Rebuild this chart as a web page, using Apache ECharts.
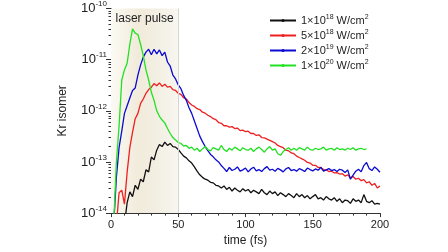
<!DOCTYPE html>
<html>
<head>
<meta charset="utf-8">
<script src="https://cdn.jsdelivr.net/npm/echarts@6/dist/echarts.min.js"></script>
<style>
  html, body { margin: 0; padding: 0; background: #fff; }
  #chart { width: 448px; height: 252px; }
</style>
</head>
<body>
<div id="chart"></div>
<script>
// time axis (fs), one sample every 2 fs
var times = [0,2,4,6,8,10,12,14,16,18,20,22,24,26,28,30,32,34,36,38,40,42,44,46,48,50,
  52,54,56,58,60,62,64,66,68,70,72,74,76,78,80,82,84,86,88,90,92,94,96,98,100,
  102,104,106,108,110,112,114,116,118,120,122,124,126,128,130,132,134,136,138,140,
  142,144,146,148,150,152,154,156,158,160,162,164,166,168,170,172,174,176,178,180,
  182,184,186,188,190,192,194,196,198,200];

var seriesNames = ['1e18', '5e18', '2e19', '1e20'];

// 1x10^18 W/cm^2
var black18 = [null,null,null,null,null,6e-15,1.6e-14,2.6e-14,2.1e-14,3.5e-14,2.9e-14,
  4.6e-14,4.1e-14,7.0e-14,6.4e-14,1.25e-13,1.1e-13,1.7e-13,2.2e-13,2.0e-13,2.45e-13,
  2.1e-13,2.3e-13,2.0e-13,1.95e-13,1.75e-13,1.5e-13,1.3e-13,1.2e-13,1.05e-13,9.5e-14,
  8.0e-14,6.6e-14,5.6e-14,5.0e-14,4.6e-14,4.4e-14,4.0e-14,3.9e-14,3.5e-14,3.4e-14,3.1e-14,
  3.4e-14,2.9e-14,3.2e-14,2.7e-14,3.1e-14,2.8e-14,2.6e-14,3.0e-14,2.7e-14,2.9e-14,
  2.5e-14,2.8e-14,2.6e-14,2.4e-14,2.9e-14,2.5e-14,2.3e-14,2.7e-14,2.4e-14,2.6e-14,
  2.2e-14,2.5e-14,2.3e-14,2.1e-14,2.4e-14,2.2e-14,2.0e-14,2.4e-14,2.1e-14,2.3e-14,
  2.0e-14,2.2e-14,1.9e-14,2.1e-14,2.3e-14,1.9e-14,2.0e-14,1.8e-14,2.1e-14,1.9e-14,
  1.8e-14,2.0e-14,1.7e-14,1.9e-14,1.6e-14,1.8e-14,1.75e-14,1.55e-14,1.9e-14,1.7e-14,
  1.8e-14,1.6e-14,2.3e-14,1.7e-14,1.6e-14,1.75e-14,1.5e-14,1.55e-14,1.5e-14];

// 5x10^18 W/cm^2
var red5e18 = [null,null,6e-15,2.5e-14,2.8e-14,1.5e-14,6.3e-14,1.9e-13,3.8e-13,7.0e-13,8.9e-13,
  1.4e-12,1.7e-12,2.2e-12,2.6e-12,2.9e-12,3.4e-12,3.1e-12,3.5e-12,3.0e-12,3.3e-12,
  2.9e-12,3.0e-12,2.6e-12,2.5e-12,2.2e-12,2.1e-12,1.8e-12,1.7e-12,1.45e-12,1.3e-12,
  1.22e-12,1.1e-12,1.06e-12,9.4e-13,9.0e-13,8.2e-13,7.7e-13,7.0e-13,6.7e-13,5.9e-13,
  5.7e-13,5.1e-13,5.1e-13,4.8e-13,4.9e-13,4.5e-13,4.6e-13,4.1e-13,4.2e-13,3.9e-13,
  4.0e-13,3.6e-13,3.6e-13,3.3e-13,3.4e-13,3.0e-13,2.95e-13,2.8e-13,2.65e-13,2.5e-13,
  2.35e-13,2.1e-13,2.0e-13,1.9e-13,1.7e-13,1.65e-13,1.5e-13,1.45e-13,1.3e-13,1.22e-13,
  1.15e-13,1.08e-13,9.8e-14,9.5e-14,8.6e-14,8.6e-14,7.8e-14,7.8e-14,7.1e-14,7.0e-14,
  6.5e-14,6.6e-14,6.1e-14,6.2e-14,5.8e-14,5.9e-14,5.3e-14,5.6e-14,4.9e-14,5.2e-14,
  4.6e-14,4.8e-14,4.3e-14,4.5e-14,3.9e-14,4.1e-14,3.5e-14,3.8e-14,3.1e-14,3.4e-14];

// 2x10^19 W/cm^2
var blue2e19 = [null,6e-15,5.0e-14,1.9e-13,4.0e-13,8.9e-13,1.26e-12,1.78e-12,2.5e-12,2.8e-12,
  5.0e-12,7.9e-12,1.12e-11,1.4e-11,1.6e-11,1.25e-11,1.6e-11,1.3e-11,1.55e-11,1.2e-11,
  1.4e-11,9.0e-12,7.5e-12,5.0e-12,4.2e-12,3.2e-12,2.7e-12,2.0e-12,1.6e-12,1.15e-12,
  8.9e-13,6.3e-13,4.5e-13,3.2e-13,2.5e-13,2.0e-13,1.66e-13,1.4e-13,1.26e-13,1.1e-13,
  1.0e-13,8.5e-14,
  7.5e-14,6.5e-14,7.8e-14,6.8e-14,7.2e-14,8.0e-14,6.6e-14,7.0e-14,7.6e-14,6.4e-14,
  7.3e-14,7.9e-14,6.7e-14,7.1e-14,6.5e-14,7.4e-14,8.1e-14,6.9e-14,7.2e-14,6.6e-14,
  7.5e-14,7.0e-14,6.4e-14,7.3e-14,7.8e-14,6.8e-14,7.1e-14,6.6e-14,7.4e-14,7.0e-14,
  6.5e-14,7.6e-14,7.1e-14,6.7e-14,7.3e-14,6.9e-14,7.8e-14,6.6e-14,7.0e-14,7.4e-14,
  6.8e-14,7.1e-14,6.5e-14,7.2e-14,6.9e-14,6.2e-14,7.0e-14,4.6e-14,5.5e-14,6.6e-14,
  7.2e-14,6.4e-14,8.5e-14,9.8e-14,7.4e-14,6.8e-14,8.0e-14,7.2e-14,6.3e-14];

// 1x10^20 W/cm^2
var green1e20 = [null,6e-15,1.0e-13,5.0e-13,4.0e-12,6.3e-12,8.5e-12,2.0e-11,4.0e-11,3.3e-11,
  3.1e-11,2.0e-11,1.2e-11,6.3e-12,4.0e-12,2.3e-12,1.6e-12,1.0e-12,7.8e-13,6.6e-13,
  5.8e-13,4.5e-13,3.6e-13,3.0e-13,2.7e-13,2.4e-13,2.3e-13,2.05e-13,2.1e-13,1.85e-13,
  1.95e-13,1.7e-13,1.85e-13,1.6e-13,1.8e-13,2.0e-13,1.75e-13,1.65e-13,1.9e-13,1.8e-13,
  1.7e-13,2.1e-13,1.75e-13,1.6e-13,1.85e-13,1.7e-13,1.95e-13,1.8e-13,1.65e-13,1.9e-13,
  1.75e-13,1.7e-13,1.85e-13,1.6e-13,1.8e-13,1.95e-13,1.75e-13,1.55e-13,1.8e-13,2.0e-13,
  1.7e-13,1.8e-13,1.45e-13,1.35e-13,1.6e-13,1.75e-13,1.9e-13,1.7e-13,1.85e-13,1.7e-13,
  1.9e-13,1.8e-13,1.7e-13,1.95e-13,1.75e-13,1.7e-13,1.85e-13,1.75e-13,1.8e-13,1.95e-13,
  1.7e-13,1.8e-13,1.85e-13,1.7e-13,1.9e-13,1.75e-13,1.8e-13,1.7e-13,1.85e-13,1.75e-13,
  1.9e-13,1.7e-13,1.8e-13,1.85e-13,1.75e-13,1.8e-13,null,null,null,null,null];

var pulseStart = 0, pulseEnd = 50;
var xTicks = [0, 50, 100, 150, 200];

var legendText = {
  '1e18': '1×10{sup|18} W/cm{sup|2}',
  '5e18': '5×10{sup|18} W/cm{sup|2}',
  '2e19': '2×10{sup|19} W/cm{sup|2}',
  '1e20': '1×10{sup|20} W/cm{sup|2}'
};
var colors = ['#111111', '#ee2020', '#0a0ad2', '#22e022'];

function pairs(arr) {
  var out = [];
  for (var i = 0; i < times.length; i++) out.push([times[i], arr[i]]);
  return out;
}

var font = 'Arial, "Liberation Sans", sans-serif';
var chart = echarts.init(document.getElementById('chart'));

var lineSeries = [black18, red5e18, blue2e19, green1e20].map(function (d, i) {
  return {
    name: seriesNames[i],
    type: 'line',
    data: pairs(d),
    symbol: 'circle',
    symbolSize: 3,
    showSymbol: false,
    connectNulls: false,
    lineStyle: { width: 1.3, color: colors[i] },
    itemStyle: { color: colors[i] },
    z: 3
  };
});

// laser pulse shading
lineSeries[0].markArea = {
  silent: true,
  itemStyle: {
    opacity: 1,
    color: new echarts.graphic.LinearGradient(0, 0, 1, 0, [
      { offset: 0, color: '#fbfaf4' },
      { offset: 0.4, color: '#f1ebdb' },
      { offset: 0.65, color: '#f2eee1' },
      { offset: 1, color: '#f7f6f0' }
    ])
  },
  label: {
    show: true, position: 'insideTop', distance: 4,
    formatter: 'laser pulse', color: '#222', fontSize: 12, fontFamily: font
  },
  data: [[{ xAxis: pulseStart }, { xAxis: pulseEnd }]]
};
lineSeries[0].markLine = {
  silent: true, symbol: 'none', label: { show: false },
  lineStyle: { color: '#d4d4d4', width: 1, type: 'solid' },
  data: [{ xAxis: pulseEnd }]
};

chart.setOption({
  animation: false,
  backgroundColor: '#ffffff',
  textStyle: { fontFamily: font },
  grid: { left: 111, right: 68, top: 8, bottom: 30 },
  legend: {
    orient: 'vertical',
    left: 264,
    top: 9,
    itemWidth: 26,
    itemHeight: 4,
    itemGap: 2,
    data: seriesNames,
    formatter: function (n) { return legendText[n]; },
    textStyle: {
      color: '#222', fontSize: 11, fontFamily: font, lineHeight: 12,
      rich: { sup: { fontSize: 7, lineHeight: 12, padding: [0, 0, 6, 0] } }
    }
  },
  xAxis: {
    type: 'value', min: 0, max: 200, interval: 50,
    name: 'time (fs)', nameLocation: 'middle', nameGap: 16,
    nameTextStyle: { color: '#222', fontSize: 12 },
    axisLine: { show: true, lineStyle: { color: '#333', width: 1 } },
    axisTick: { show: true, inside: false, length: 4, lineStyle: { color: '#333' } },
    minorTick: { show: true, splitNumber: 5, length: 2.5, lineStyle: { color: '#333' } },
    splitLine: { show: false },
    axisLabel: {
      color: '#222', fontSize: 11, margin: 6,
      formatter: function (v) { return xTicks.indexOf(v) >= 0 ? String(v) : ''; }
    }
  },
  yAxis: {
    type: 'log', min: 1e-14, max: 1e-10, logBase: 10,
    name: 'Kr isomer', nameLocation: 'middle', nameGap: 42, nameRotate: 90,
    nameTextStyle: { color: '#222', fontSize: 12 },
    axisLine: { show: true, lineStyle: { color: '#333', width: 1 } },
    axisTick: { show: true, inside: false, length: 5, lineStyle: { color: '#333' } },
    minorTick: { show: true, splitNumber: 9, length: 2.5, lineStyle: { color: '#333' } },
    splitLine: { show: false },
    axisLabel: {
      color: '#222', fontSize: 13, margin: 4,
      formatter: function (v) {
        return '10{sup|' + Math.round(Math.log10(v)) + '}';
      },
      rich: { sup: { fontSize: 8, padding: [0, 0, 9, 0] } }
    }
  },
  series: lineSeries
});
</script>
</body>
</html>
